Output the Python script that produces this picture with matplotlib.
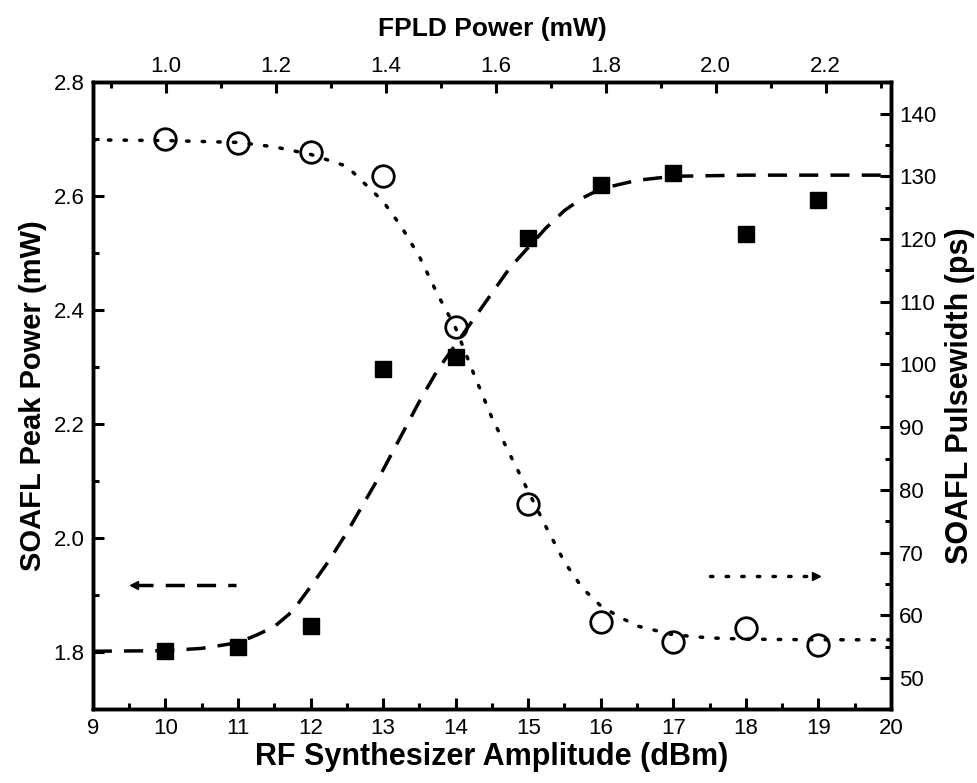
import matplotlib
matplotlib.use("Agg")
from matplotlib import pyplot as plt

plt.rcParams["font.family"] = ["Liberation Sans", "DejaVu Sans"]

# measured points
rf_amp = [10, 11, 12, 13, 14, 15, 16, 17, 18, 19]
peak_power = [1.803, 1.809, 1.847, 2.297, 2.318, 2.526, 2.619, 2.640, 2.533, 2.594]
pulsewidth = [135.9, 135.3, 133.9, 130.0, 106.0, 77.8, 59.0, 55.8, 58.0, 55.3]

# fitted curves
fit_power_x = [9, 10, 10.5, 11, 11.25, 11.5, 11.75, 12, 12.25, 12.5, 12.75, 13, 13.25,
               13.5, 13.75, 14, 14.25, 14.5, 14.75, 15, 15.25, 15.5, 15.75, 16, 16.5,
               17, 18, 19, 20]
fit_power_y = [1.802, 1.803, 1.807, 1.817, 1.830, 1.845, 1.872, 1.915, 1.960, 2.010,
               2.065, 2.120, 2.180, 2.240, 2.295, 2.340, 2.385, 2.430, 2.475, 2.510,
               2.545, 2.575, 2.597, 2.613, 2.628, 2.635, 2.637, 2.637, 2.637]
fit_width_x = [9, 10, 11, 11.5, 12, 12.5, 13, 13.25, 13.5, 13.75, 14, 14.25, 14.5, 14.75,
               15, 15.25, 15.5, 15.75, 16, 16.25, 16.5, 17, 17.5, 18, 19, 20]
fit_width_y = [135.8, 135.7, 135.4, 134.7, 133.5, 131.6, 126.0, 122.0, 117.2, 111.2,
               105.8, 98.5, 91.5, 85.6, 79.8, 74.0, 68.5, 64.3, 61.5, 59.8, 58.3,
               56.9, 56.4, 56.2, 56.1, 56.1]

fpld_ticks = [1.0, 1.2, 1.4, 1.6, 1.8, 2.0, 2.2]

# arrows telling which axis belongs to which curve
left_arrow_x = [9.57, 10.98]
left_arrow_y = 1.918
right_arrow_x = [17.5, 18.96]
right_arrow_y = 66.3

fig = plt.figure(figsize=(9.77, 7.83), dpi=100)
ax = fig.add_subplot(111)
fig.subplots_adjust(left=0.095, right=0.912, bottom=0.094, top=0.895)
ax2 = ax.twinx()
ax3 = ax.twiny()

ax.plot(fit_power_x, fit_power_y, color="black", lw=2.5, dashes=(5.5, 3.5))
ax.plot(rf_amp, peak_power, "s", color="black", ms=11.5, zorder=5)
ax.plot(left_arrow_x, [left_arrow_y] * 2, color="black", lw=2.5, dashes=(5.5, 3.5))
ax.plot([left_arrow_x[0]], [left_arrow_y], "<", color="black", ms=6)

ax2.plot(fit_width_x, fit_width_y, color="black", lw=2.5, dashes=(0.7, 3.8),
         dash_capstyle="round")
ax2.plot(rf_amp, pulsewidth, "o", mfc="none", mec="black", mew=2, ms=15.5, zorder=5)
ax2.plot(right_arrow_x[:1] + [right_arrow_x[1] - 0.08], [right_arrow_y] * 2,
         color="black", lw=2.5, dashes=(0.7, 3.8), dash_capstyle="round")
ax2.plot([right_arrow_x[1]], [right_arrow_y], ">", color="black", ms=6)

ax.set_xlim(9, 20)
ax.set_ylim(1.7, 2.8)
ax2.set_ylim(45, 145)
ax3.set_xlim(0.867, 2.319)

ax.set_xticks(range(9, 21))
ax.set_xticks([x + 0.5 for x in range(9, 20)], minor=True)
ax.set_yticks([1.8, 2.0, 2.2, 2.4, 2.6, 2.8])
ax.set_yticks([1.7, 1.9, 2.1, 2.3, 2.5, 2.7], minor=True)
ax.set_yticklabels(["1.8", "2.0", "2.2", "2.4", "2.6", "2.8"])
ax2.set_yticks(range(50, 150, 10))
ax2.set_yticks(range(45, 150, 10), minor=True)
ax3.set_xticks(fpld_ticks)
ax3.set_xticks([0.9, 1.1, 1.3, 1.5, 1.7, 1.9, 2.1, 2.3], minor=True)
ax3.set_xticklabels([f"{v:.1f}" for v in fpld_ticks])

for a in (ax, ax2, ax3):
    for s in a.spines.values():
        s.set_linewidth(2.4)
    a.tick_params(which="major", direction="in", length=8, width=2.2, labelsize=16, pad=6)
    a.tick_params(which="minor", direction="in", length=4.5, width=2.2)

ax.tick_params(which="both", top=False, right=False)
ax2.tick_params(which="both", left=False, right=True)
ax3.tick_params(which="both", bottom=False, top=True)
ax3.tick_params(which="major", pad=4)

ax.set_xlabel("RF Synthesizer Amplitude (dBm)", fontsize=22, fontweight="bold", labelpad=2)
ax.set_ylabel("SOAFL Peak Power (mW)", fontsize=21, fontweight="bold", labelpad=5)
ax2.set_ylabel("SOAFL Pulsewidth (ps)", fontsize=22, fontweight="bold", labelpad=6)
ax3.set_xlabel("FPLD Power (mW)", fontsize=19, fontweight="bold", labelpad=14)

fig.savefig("out.png", dpi=100)
